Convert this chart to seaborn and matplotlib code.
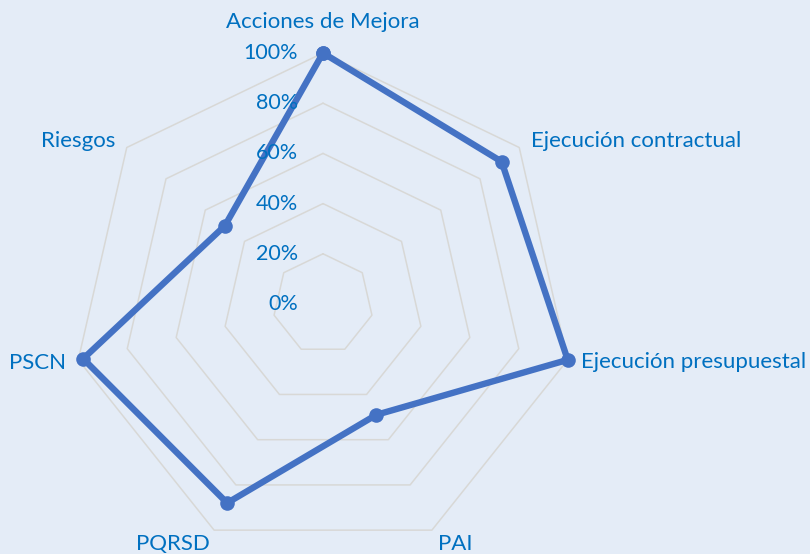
import numpy as np
import pandas as pd
import matplotlib
matplotlib.use("Agg")
import matplotlib.pyplot as plt
import seaborn as sns

# Indicadores de gestión (fracción de cumplimiento)
categories = ["Acciones de Mejora", "Ejecución contractual", "Ejecución presupuestal",
              "PAI", "PQRSD", "PSCN", "Riesgos"]
values = [1.00, 0.91, 1.00, 0.49, 0.88, 0.98, 0.50]
ring_levels = [0.2, 0.4, 0.6, 0.8, 1.0]
tick_labels = ["0%", "20%", "40%", "60%", "80%", "100%"]

BG = "#E4ECF7"
TEXT = "#0070C0"
LINE = "#4472C4"
GRID = "#D8D8D6"

sns.set_theme(style="white")
plt.rcParams["font.family"] = ["Lato", "DejaVu Sans"]

n = len(categories)
angles = np.arange(n) * 2 * np.pi / n

fig = plt.figure(figsize=(8.10, 5.54), dpi=100, facecolor=BG)
cx, cy, rad = 323 / 810, (554 - 304) / 554, 251
w, h = 2 * rad / 810, 2 * rad / 554
ax = fig.add_axes([cx - w / 2, cy - h / 2, w, h], projection="polar")
ax.set_facecolor("none")
ax.set_theta_zero_location("N")
ax.set_theta_direction(-1)
ax.set_ylim(0, 1)
ax.grid(False)
ax.set_xticks([])
ax.set_yticks([])
ax.spines["polar"].set_visible(False)

# Heptagonal rings
closed_angles = np.append(angles, angles[0])
for r in ring_levels:
    ax.plot(closed_angles, [r] * (n + 1), color=GRID, lw=1.1, zorder=1, clip_on=False)

# Series
df = pd.DataFrame({"theta": closed_angles, "value": values + values[:1]})
sns.lineplot(data=df, x="theta", y="value", sort=False, estimator=None, ax=ax,
             color=LINE, lw=4.6, marker="o", markersize=10.5,
             markeredgecolor=LINE, markeredgewidth=0, zorder=3, clip_on=False)
ax.set_xlabel("")
ax.set_ylabel("")

# Radial tick labels along the top axis
for lvl, lab in zip([0.0] + ring_levels, tick_labels):
    ax.annotate(lab, xy=(0, lvl), xytext=(-25, 0), textcoords="offset pixels",
                ha="right", va="center", fontsize=15.5, color=TEXT, zorder=4,
                annotation_clip=False)

# Category labels
offsets = [(0, 31, "center"), (12, 7, "left"), (13, -2, "left"), (6, -14, "left"),
           (-4, -14, "right"), (-12, -3, "right"), (-11, 7, "right")]
for ang, cat, (dx, dy, ha) in zip(angles, categories, offsets):
    ax.annotate(cat, xy=(ang, 1.0), xytext=(dx, dy), textcoords="offset pixels",
                ha=ha, va="center", fontsize=16, color=TEXT, annotation_clip=False)

fig.savefig("out.png", dpi=100, facecolor=BG)
